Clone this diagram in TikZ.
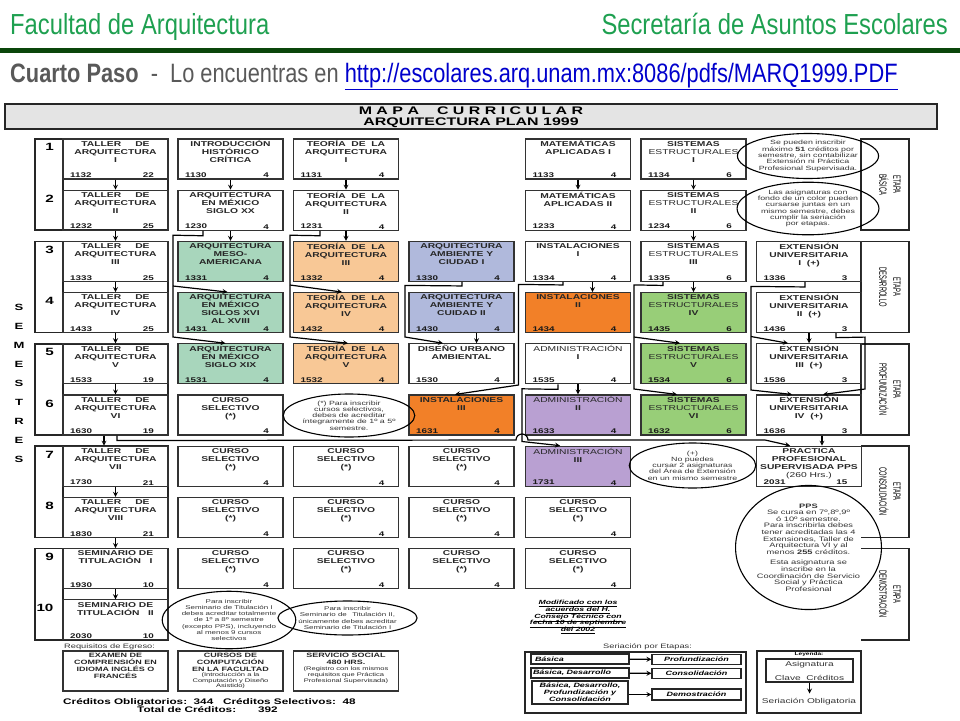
\documentclass[tikz,border=0pt]{standalone}
\usepackage{fontspec}
\setmainfont{Liberation Sans}
\newfontfamily\anchafont[FakeStretch=1.45]{Liberation Sans}
\newfontfamily\angostafont[FakeStretch=0.82]{Liberation Sans}
\newfontfamily\etapafont[FakeStretch=0.55]{Liberation Sans}
\usetikzlibrary{shapes.geometric, arrows}
\setlength{\lineskiplimit}{-6pt}
\definecolor{verdetit}{RGB}{30,160,80}
\definecolor{verdeosc}{RGB}{10,70,10}
\definecolor{grisbarra}{RGB}{228,228,228}
\definecolor{menta}{RGB}{168,214,188}
\definecolor{durazno}{RGB}{248,200,150}
\definecolor{lavanda}{RGB}{176,185,220}
\definecolor{naranja}{RGB}{242,128,40}
\definecolor{pasto}{RGB}{152,206,120}
\definecolor{lila}{RGB}{185,160,210}
\definecolor{enlace}{RGB}{0,0,204}
\tikzstyle{asig} = [rectangle, draw=black!80, line width=1.1pt, minimum width=105pt, minimum height=40pt, inner sep=0pt]
\tikzstyle{subj} = [anchor=north, align=center, inner xsep=1pt, inner ysep=2pt, text=black!85, font=\anchafont\bfseries\fontsize{7.1}{8}\selectfont]
\tikzstyle{subjb} = [anchor=north, align=center, inner xsep=1pt, inner ysep=1.5pt, text=black!85, font=\anchafont\bfseries\fontsize{6.2}{7}\selectfont]
\tikzstyle{clave} = [anchor=south west, inner xsep=7.5pt, inner ysep=1.5pt, text=black!90, font=\anchafont\bfseries\fontsize{6.8}{8}\selectfont]
\tikzstyle{cred} = [anchor=south east, inner xsep=14.5pt, inner ysep=1.5pt, text=black!90, font=\anchafont\bfseries\fontsize{6.8}{8}\selectfont]
\tikzstyle{nota} = [ellipse, draw=black, line width=1.1pt, inner sep=0pt, align=center, text=black!80, font=\anchafont\fontsize{6.1}{6.3}\selectfont]
\tikzstyle{grupo} = [draw=black!85, line width=1.5pt]
\tikzstyle{etapa} = [rotate=-90, align=center, font=\etapafont\fontsize{10.5}{14}\selectfont]
\tikzstyle{semnum} = [anchor=north, inner sep=0pt, font=\anchafont\bfseries\fontsize{10.5}{11}\selectfont]
\tikzstyle{cuadro} = [rectangle, draw=black!85, line width=1.1pt, inner sep=0pt]
\tikzstyle{chico} = [inner sep=0pt, text=black!80, font=\anchafont\fontsize{6.4}{7}\selectfont]
\tikzstyle{serie} = [cuadro, font=\anchafont\bfseries\itshape\fontsize{6.2}{7}\selectfont]
\tikzstyle{edge} = [line width=1.2pt, ->, >=stealth]
\tikzset{
  tit/.style={label={[subj]north:\strut #1}},
  titb/.style={label={[subjb]north:\strut #1}},
  num/.style 2 args={label={[clave]south west:#1}, label={[cred]south east:#2}}
}

\begin{document}
\begin{tikzpicture}[x=1pt, y=-1pt]
\useasboundingbox (0,0) rectangle (960,720);

% encabezado
\node (fac) [anchor=base west, inner sep=0pt, text=verdetit, font=\angostafont\fontsize{29}{31}\selectfont] at (10,34) {Facultad de Arquitectura};
\node (sec) [anchor=base east, inner sep=0pt, text=verdetit, font=\angostafont\fontsize{29}{31}\selectfont] at (948,34) {Secretaría de Asuntos Escolares};
\draw [verdeosc, line width=5pt] (0,50) -- (960,50);
\node (paso) [anchor=base west, inner sep=0pt, text=black!65, font=\angostafont\fontsize{26.6}{28}\selectfont] at (10,82) {\textbf{Cuarto Paso}\ \ -\ \ Lo encuentras en \textcolor{enlace}{\underline{http://escolares.arq.unam.mx:8086/pdfs/MARQ1999.PDF}}};

\node (barra) [rectangle, draw=black!85, line width=1.5pt, fill=grisbarra, minimum width=932pt, minimum height=25pt] at (471,116.5) {};
\node (mapa) [inner sep=0pt, font=\anchafont\bfseries\fontsize{11}{12}\selectfont] at (471,111) {M A P A\hspace{18pt}C U R R I C U L A R};
\node (plan) [inner sep=0pt, font=\anchafont\bfseries\fontsize{11}{12}\selectfont] at (471,122.5) {ARQUITECTURA PLAN 1999};

% semestres
\draw [grupo] (35,139) rectangle (168,230.2); \draw [grupo] (63,139) -- (63,230.2);
\draw [grupo] (35,241.4) rectangle (168,332.6); \draw [grupo] (63,241.4) -- (63,332.6);
\draw [grupo] (35,343.8) rectangle (168,435); \draw [grupo] (63,343.8) -- (63,435);
\draw [grupo] (35,446.2) rectangle (168,537.4); \draw [grupo] (63,446.2) -- (63,537.4);
\draw [grupo] (35,548.6) rectangle (168,639.8); \draw [grupo] (63,548.6) -- (63,639.8);
\node (s1) [semnum] at (49.5,143.5) {1};
\node (s2) [semnum] at (49.5,194.7) {2};
\node (s3) [semnum] at (49.5,245.9) {3};
\node (s4) [semnum] at (49.5,297.1) {4};
\node (s5) [semnum] at (49.5,348.3) {5};
\node (s6) [semnum] at (49.5,399.5) {6};
\node (s7) [semnum] at (49.5,450.7) {7};
\node (s8) [semnum] at (49.5,501.9) {8};
\node (s9) [semnum] at (49.5,553.1) {9};
\node (s10) [semnum] at (45,604.3) {10};
\node (semestres) [align=center, inner sep=0pt, font=\anchafont\bfseries\fontsize{9}{19}\selectfont] at (19,383) {S\\E\\M\\E\\S\\T\\R\\E\\S};

% etapas
\draw [grupo] (861,139) rectangle (909,230.2);
\draw [grupo] (861,241.4) rectangle (909,332.6);
\draw [grupo] (861,343.8) rectangle (909,435);
\draw [grupo] (861,446.2) -- (909,446.2) -- (909,537.4) -- (861,537.4);
\draw [grupo] (861,548.6) -- (909,548.6) -- (909,639.8) -- (861,639.8);
\node (eb) [etapa] at (890,184.6) {ETAPA\\BÁSICA};
\node (ed) [etapa] at (890,287) {ETAPA\\DESARROLLO};
\node (ep) [etapa] at (890,389.4) {ETAPA\\PROFUNDIZACIÓN};
\node (ec) [etapa] at (890,491.8) {ETAPA\\CONSOLIDACIÓN};
\node (em) [etapa] at (890,594.2) {ETAPA\\DEMOSTRACIÓN};

% semestre 1
\node (c1r1) [asig, tit={TALLER\hspace{14pt}DE\\ARQUITECTURA\\I}, num={1132}{22}] at (115.5,159) {};
\node (c2r1) [asig, tit={INTRODUCCIÓN\\HISTÓRICO\\CRÍTICA}, num={1130}{4}] at (230.5,159) {};
\node (c3r1) [asig, tit={TEORÍA\ \ DE\ \ LA\\ARQUITECTURA\\I}, num={1131}{4}] at (346,159) {};
\node (c5r1) [asig, tit={MATEMÁTICAS\\APLICADAS I}, num={1133}{4}] at (578,159) {};
\node (c6r1) [asig, tit={SISTEMAS\\{\mdseries ESTRUCTURALES}\\I}, num={1134}{6}] at (693.5,159) {};
% semestre 2
\node (c1r2) [asig, tit={TALLER\hspace{14pt}DE\\ARQUITECTURA\\II}, num={1232}{25}] at (115.5,210.2) {};
\node (c2r2) [asig, tit={ARQUITECTURA\\EN MÉXICO\\SIGLO XX}, num={1230}{4}] at (230.5,210.2) {};
\node (c3r2) [asig, tit={TEORÍA\ \ DE\ \ LA\\ARQUITECTURA\\II}, num={1231}{4}] at (346,210.2) {};
\node (c5r2) [asig, tit={MATEMÁTICAS\\APLICADAS II}, num={1233}{4}] at (578,210.2) {};
\node (c6r2) [asig, tit={SISTEMAS\\{\mdseries ESTRUCTURALES}\\II}, num={1234}{6}] at (693.5,210.2) {};
% semestre 3
\node (c1r3) [asig, tit={TALLER\hspace{14pt}DE\\ARQUITECTURA\\III}, num={1333}{25}] at (115.5,261.4) {};
\node (c2r3) [asig, fill=menta, tit={ARQUITECTURA\\MESO-\\AMERICANA}, num={1331}{4}] at (230.5,261.4) {};
\node (c3r3) [asig, fill=durazno, tit={TEORÍA\ \ DE\ \ LA\\ARQUITECTURA\\III}, num={1332}{4}] at (346,261.4) {};
\node (c4r3) [asig, fill=lavanda, tit={ARQUITECTURA\\AMBIENTE Y\\CIUDAD I}, num={1330}{4}] at (461.5,261.4) {};
\node (c5r3) [asig, tit={INSTALACIONES\\I}, num={1334}{4}] at (578,261.4) {};
\node (c6r3) [asig, tit={SISTEMAS\\{\mdseries ESTRUCTURALES}\\III}, num={1335}{6}] at (693.5,261.4) {};
\node (c7r3) [asig, tit={EXTENSIÓN\\UNIVERSITARIA\\I\ \ (+)}, num={1336}{3}] at (809,261.4) {};
% semestre 4
\node (c1r4) [asig, tit={TALLER\hspace{14pt}DE\\ARQUITECTURA\\IV}, num={1433}{25}] at (115.5,312.6) {};
\node (c2r4) [asig, fill=menta, tit={ARQUITECTURA\\EN MÉXICO\\SIGLOS XVI\\AL XVIII}, num={1431}{4}] at (230.5,312.6) {};
\node (c3r4) [asig, fill=durazno, tit={TEORÍA\ \ DE\ \ LA\\ARQUITECTURA\\IV}, num={1432}{4}] at (346,312.6) {};
\node (c4r4) [asig, fill=lavanda, tit={ARQUITECTURA\\AMBIENTE Y\\CUIDAD II}, num={1430}{4}] at (461.5,312.6) {};
\node (c5r4) [asig, fill=naranja, tit={INSTALACIONES\\II}, num={1434}{4}] at (578,312.6) {};
\node (c6r4) [asig, fill=pasto, tit={SISTEMAS\\{\mdseries ESTRUCTURALES}\\IV}, num={1435}{6}] at (693.5,312.6) {};
\node (c7r4) [asig, tit={EXTENSIÓN\\UNIVERSITARIA\\II\ \ (+)}, num={1436}{3}] at (809,312.6) {};
% semestre 5
\node (c1r5) [asig, tit={TALLER\hspace{14pt}DE\\ARQUITECTURA\\V}, num={1533}{19}] at (115.5,363.8) {};
\node (c2r5) [asig, fill=menta, tit={ARQUITECTURA\\EN MÉXICO\\SIGLO XIX}, num={1531}{4}] at (230.5,363.8) {};
\node (c3r5) [asig, fill=durazno, tit={TEORÍA\ \ DE\ \ LA\\ARQUITECTURA\\V}, num={1532}{4}] at (346,363.8) {};
\node (c4r5) [asig, tit={DISEÑO URBANO\\AMBIENTAL}, num={1530}{4}] at (461.5,363.8) {};
\node (c5r5) [asig, tit={{\mdseries ADMINISTRACIÓN}\\I}, num={1535}{4}] at (578,363.8) {};
\node (c6r5) [asig, fill=pasto, tit={SISTEMAS\\{\mdseries ESTRUCTURALES}\\V}, num={1534}{6}] at (693.5,363.8) {};
\node (c7r5) [asig, tit={EXTENSIÓN\\UNIVERSITARIA\\III\ \ (+)}, num={1536}{3}] at (809,363.8) {};
% semestre 6
\node (c1r6) [asig, tit={TALLER\hspace{14pt}DE\\ARQUITECTURA\\VI}, num={1630}{19}] at (115.5,415) {};
\node (c2r6) [asig, tit={CURSO\\SELECTIVO\\(*)}, num={}{4}] at (230.5,415) {};
\node (c4r6) [asig, fill=naranja, tit={INSTALACIONES\\III}, num={1631}{4}] at (461.5,415) {};
\node (c5r6) [asig, fill=lila, tit={{\mdseries ADMINISTRACIÓN}\\II}, num={1633}{4}] at (578,415) {};
\node (c6r6) [asig, fill=pasto, tit={SISTEMAS\\{\mdseries ESTRUCTURALES}\\VI}, num={1632}{6}] at (693.5,415) {};
\node (c7r6) [asig, tit={EXTENSIÓN\\UNIVERSITARIA\\IV\ \ (+)}, num={1636}{3}] at (809,415) {};
% semestre 7
\node (c1r7) [asig, tit={TALLER\hspace{14pt}DE\\ARQUITECTURA\\VII}, num={1730}{21}] at (115.5,466.2) {};
\node (c2r7) [asig, tit={CURSO\\SELECTIVO\\(*)}, num={}{4}] at (230.5,466.2) {};
\node (c3r7) [asig, tit={CURSO\\SELECTIVO\\(*)}, num={}{4}] at (346,466.2) {};
\node (c4r7) [asig, tit={CURSO\\SELECTIVO\\(*)}, num={}{4}] at (461.5,466.2) {};
\node (c5r7) [asig, fill=lila, tit={{\mdseries ADMINISTRACIÓN}\\III}, num={1731}{4}] at (578,466.2) {};
\node (c7r7) [asig, tit={PRACTICA\\PROFESIONAL\\SUPERVISADA PPS\\{\mdseries (260 Hrs.)}}, num={2031}{15}] at (809,466.2) {};
% semestre 8
\node (c1r8) [asig, tit={TALLER\hspace{14pt}DE\\ARQUITECTURA\\VIII}, num={1830}{21}] at (115.5,517.4) {};
\node (c2r8) [asig, tit={CURSO\\SELECTIVO\\(*)}, num={}{4}] at (230.5,517.4) {};
\node (c3r8) [asig, tit={CURSO\\SELECTIVO\\(*)}, num={}{4}] at (346,517.4) {};
\node (c4r8) [asig, tit={CURSO\\SELECTIVO\\(*)}, num={}{4}] at (461.5,517.4) {};
\node (c5r8) [asig, tit={CURSO\\SELECTIVO\\(*)}, num={}{4}] at (578,517.4) {};
% semestre 9
\node (c1r9) [asig, tit={SEMINARIO DE\\TITULACIÓN\ \ \ I}, num={1930}{10}] at (115.5,568.6) {};
\node (c2r9) [asig, tit={CURSO\\SELECTIVO\\(*)}, num={}{4}] at (230.5,568.6) {};
\node (c3r9) [asig, tit={CURSO\\SELECTIVO\\(*)}, num={}{4}] at (346,568.6) {};
\node (c4r9) [asig, tit={CURSO\\SELECTIVO\\(*)}, num={}{4}] at (461.5,568.6) {};
\node (c5r9) [asig, tit={CURSO\\SELECTIVO\\(*)}, num={}{4}] at (578,568.6) {};
% semestre 10
\node (c1r10) [asig, tit={SEMINARIO DE\\TITULACIÓN\ \ \ II}, num={2030}{10}] at (115.5,619.8) {};

% notas
\node (n1) [nota, minimum width=117pt, minimum height=45pt] at (808,156) {Se pueden inscribir\\máximo \textbf{51} créditos por\\semestre, sin contabilizar\\Extensión ni Práctica\\Profesional Supervisada.};
\node (n2) [nota, minimum width=118pt, minimum height=47pt] at (808,208.5) {Las asignaturas con\\fondo de un color pueden\\cursarse juntas en un\\mismo semestre, debes\\cumplir la seriación\\por etapas.};
\node (n3) [nota, minimum width=116pt, minimum height=43pt] at (349,415.5) {(*) Para inscribir\\cursos selectivos,\\debes de acreditar\\íntegramente de 1º a 5º\\semestre.};
\node (n4) [nota, minimum width=115pt, minimum height=45pt] at (692.5,465.5) {(+)\\No puedes\\cursar 2 asignaturas\\del Área de Extensión\\en un mismo semestre};
\node (n5) [nota, minimum width=143pt, minimum height=109pt, font=\anchafont\fontsize{6.4}{6.6}\selectfont] at (808.5,547.5) {\textbf{PPS}\\Se cursa en 7º,8º,9º\\ó 10º semestre.\\Para inscribirla debes\\tener acreditadas las 4\\Extensiones, Taller de\\Arquitectura VI y al\\menos \textbf{255} créditos.\\[4pt]Esta asignatura se\\inscribe en la\\Coordinación de Servicio\\Social y Práctica\\Profesional};
\node (n6) [nota, minimum width=108pt, minimum height=52pt, font=\anchafont\fontsize{5.5}{6.1}\selectfont] at (229,620) {Para inscribir\\Seminario de Titulación I\\debes acreditar totalmente\\de 1º a 8º semestre\\(excepto PPS), incluyendo\\al menos 9 cursos\\selectivos};
\node (n7) [nota, minimum width=117pt, minimum height=34pt, font=\anchafont\fontsize{5.5}{6.1}\selectfont] at (347.5,618) {Para inscribir\\Seminario de\quad Titulación II,\\únicamente debes acreditar\\Seminario de Titulación I};
\node (modif) [align=center, inner sep=0pt, font=\anchafont\bfseries\itshape\fontsize{6}{6.6}\selectfont] at (578,617) {\underline{Modificado con los}\\\underline{acuerdos del H.}\\\underline{Consejo Técnico con}\\\underline{fecha 10 de septiembre}\\\underline{del 2002}};

% seriacion obligatoria
\draw [edge] (c1r1) -- (c1r2);
\draw [edge] (c1r2) -- (c1r3);
\draw [edge] (c1r3) -- (c1r4);
\draw [edge] (c1r4) -- (c1r5);
\draw [edge] (c1r5) -- (c1r6);
\draw [edge] ([xshift=-11.5pt]c1r6.south) -- ([xshift=-11.5pt]c1r7.north);
\draw [edge] (c1r7) -- (c1r8);
\draw [edge] (c1r8) -- (c1r9);
\draw [edge] (c1r9) -- (c1r10);
\draw [edge] (c2r1) -- (c2r2);
\draw [edge] (c2r2) -- (c2r3);
\draw [edge] (c3r1) -- (c3r2);
\draw [edge] (c3r2) -- (c3r3);
\draw [edge] (c5r1) -- (c5r2);
\draw [edge] ([xshift=14.5pt]c5r3.south) -- ([xshift=14.5pt]c5r4.north);
\draw [edge] (c5r5) -- (c5r6);
\draw [edge] ([xshift=15pt]c4r4.south) -- ([xshift=15pt]c4r5.north);
\draw [edge] (c6r1) -- (c6r2);
\draw [edge] (c6r2) -- (c6r3);
\draw [edge] (c6r3) -- (c6r4);
\draw [edge] (c7r4) -- (c7r5);
\draw [edge] ([xshift=13pt]c7r6.south) -- ([xshift=13pt]c7r7.north);

\draw [edge] ([xshift=-27.5pt]c2r2.south) -- ++(0,5) -- (173,235.2) -- (173,337) -- ([xshift=-5pt]c2r5.north);
\coordinate (k2) at (173,286);
\draw [edge] (k2) -- ([xshift=-3pt]c2r4.north);
\draw [edge] ([xshift=-26pt]c3r2.south) -- ++(0,5) -- (290,235.2) -- (290,337) -- ([xshift=2pt]c3r5.north);
\coordinate (k3) at (290,285);
\draw [edge] (k3) -- ([xshift=-4pt]c3r4.north);
\draw [edge] ([xshift=0.5pt]c4r3.south) -- ++(0,4) -- (405,285.4) -- (405,337) -- ([xshift=-18.5pt]c4r5.north);
\draw [edge] ([xshift=-15pt]c5r3.south) -- ++(0,3) -- (518.5,284.4) -- (518.5,385) -- ([xshift=-6.5pt]c4r6.north);
\draw [edge] ([xshift=-20pt]c5r5.south) -- ++(0,5) -- (522,388.8) -- (522,441.5) -- ([xshift=-18pt]c5r7.north);
\draw [edge] ([xshift=-30.5pt]c6r3.south) -- ++(0,3.5) -- (634,284.9) -- (634,389) -- ([xshift=-16.5pt]c6r6.north);
\coordinate (k6) at (634,337);
\draw [edge] (k6) -- ([xshift=-13.5pt]c6r5.north);
\draw [edge] ([xshift=-4pt]c7r3.south) -- ++(0,5) -- (751,286.4) -- (751,390) -- ([xshift=-17pt]c7r6.north);
\coordinate (k7) at (751,336.5);
\draw [edge] (k7) -- ([xshift=-21pt]c7r5.north);
\draw [edge] ([xshift=27pt]c7r4.south) -- ++(0,4.5) -- (865,337.1) -- (865,389) -- ([xshift=14pt]c7r6.north);
\draw [edge] ([xshift=1.5pt]c1r6.south) -- ++(0,5) -- (516,440) arc (180:0:6pt) -- (765,440) -- ([xshift=-19pt]c7r7.north);

% requisitos de egreso
\node (req) [chico, anchor=base west] at (64,648) {Requisitos de Egreso:};
\node (eg1) [asig, titb={EXAMEN DE\\COMPRENSIÓN EN\\IDIOMA INGLÉS O\\FRANCÉS}] at (115.5,671) {};
\node (eg2) [asig, titb={CURSOS DE\\COMPUTACIÓN\\EN LA FACULTAD\\[-1.5pt]{\mdseries\fontsize{5.2}{5.5}\selectfont (Introducción a la}\\[-1.5pt]{\mdseries\fontsize{5.2}{5.5}\selectfont Computación y Diseño}\\[-1.5pt]{\mdseries\fontsize{5.2}{5.5}\selectfont Asistido)}}] at (230.5,671) {};
\node (eg3) [asig, titb={SERVICIO SOCIAL\\480 HRS.\\[-1pt]{\mdseries\fontsize{5.2}{5.5}\selectfont (Registro con los mismos}\\[-1pt]{\mdseries\fontsize{5.2}{5.5}\selectfont requisitos que Práctica}\\[-1pt]{\mdseries\fontsize{5.2}{5.5}\selectfont Profesional Supervisada)}}] at (346,671) {};
\node (tot1) [anchor=base west, inner sep=0pt, font=\anchafont\bfseries\fontsize{8.1}{8}\selectfont] at (63,704) {Créditos Obligatorios:\ \ 344\ \ \ Créditos Selectivos:\ \ 48};
\node (tot2) [anchor=base west, inner sep=0pt, font=\anchafont\bfseries\fontsize{8.1}{8}\selectfont] at (137,712.5) {Total de Créditos:\hspace{22pt}392};

% seriacion por etapas
\node (sert) [chico, anchor=base west] at (603,648) {Seriación por Etapas:};
\node (ser) [cuadro, minimum width=221pt, minimum height=61pt] at (635.5,682.5) {};
\node (sb1) [serie, align=left, text width=90pt, inner xsep=4pt, minimum height=10pt] at (580,659) {Básica};
\node (sb2) [serie, align=left, text width=94pt, inner xsep=2pt, minimum height=10pt] at (580,673) {Básica, Desarrollo};
\node (sb3) [serie, align=center, minimum width=96pt, minimum height=23pt] at (580,692.5) {Básica, Desarrollo,\\Profundización y\\Consolidación};
\node (rb1) [serie, minimum width=89pt, minimum height=9.5pt] at (696.5,659.5) {Profundización};
\node (rb2) [serie, minimum width=89pt, minimum height=9.5pt] at (696.5,673.5) {Consolidación};
\node (rb3) [serie, minimum width=89pt, minimum height=11pt] at (696.5,694.5) {Demostración};
\draw [edge] (sb1) -- (rb1);
\draw [edge] (sb2) -- (rb2);
\draw [edge] (sb3.east |- rb3) -- (rb3);

% leyenda
\node (ley) [cuadro, minimum width=104pt, minimum height=62pt] at (809,682) {};
\node (leyt) [inner sep=0pt, font=\anchafont\bfseries\fontsize{4.5}{5}\selectfont] at (809,654.5) {Leyenda:};
\node (leyasig) [cuadro, minimum width=87pt, minimum height=23pt] at (809.5,670.5) {};
\node (asigt) [chico, font=\anchafont\fontsize{7}{8}\selectfont] at (809.5,664.5) {Asignatura};
\node (clavet) [chico, font=\anchafont\fontsize{7}{8}\selectfont] at (809.5,677.5) {Clave\ \ Créditos};
\coordinate (leyfin) at (809.5,693.5);
\draw [edge] (leyasig) -- (leyfin);
\node (leyser) [chico, font=\anchafont\fontsize{7}{8}\selectfont] at (809,701.5) {Seriación Obligatoria};

\end{tikzpicture}
\end{document}
